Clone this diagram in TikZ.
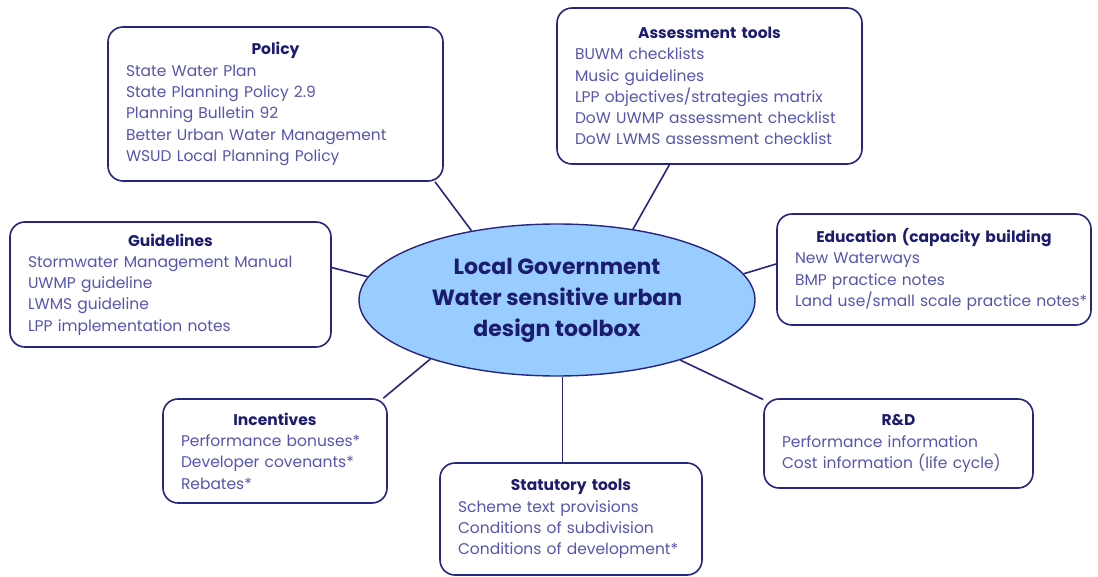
\documentclass[tikz,border=0pt]{standalone}
\usepackage{fontspec}
\setmainfont{Poppins}
\usetikzlibrary{shapes.geometric}
\definecolor{edgeblue}{RGB}{38,38,128}
\definecolor{titleblue}{RGB}{28,28,110}
\definecolor{itemblue}{RGB}{85,85,175}
\definecolor{hubfill}{RGB}{153,204,255}
\newcommand*{\BoxTitle}[1]{{\centering\bfseries\color{titleblue}#1\par}}
\tikzset{
  toolbox/.style={draw=edgeblue, line width=1.6pt, rounded corners=15pt,
    align=left, text=itemblue, inner xsep=18pt, inner ysep=0pt,
    font=\fontsize{15.5}{21.3}\selectfont},
  hub/.style={ellipse, draw=edgeblue, line width=1.4pt, fill=hubfill,
    minimum width=396pt, minimum height=152pt, inner sep=0pt, align=center,
    text=titleblue, font=\fontsize{22}{31}\selectfont\bfseries},
  spoke/.style={draw=edgeblue, line width=1.6pt}
}

\begin{document}
\begin{tikzpicture}[x=1pt,y=-1pt]
    \useasboundingbox (0,0) rectangle (1098,577);

    \node [hub] (hub) at (557,300) {Local Government\\Water sensitive urban\\design toolbox};

    % the seven tool boxes
    \node [toolbox, text width=299pt, minimum height=154pt] (policy) at (275.5,104)
      {\BoxTitle{Policy}State Water Plan\\State Planning Policy 2.9\\Planning Bulletin 92\\Better Urban Water Management\\WSUD Local Planning Policy};
    \node [toolbox, text width=269pt, minimum height=156pt] (assess) at (709.5,86)
      {\BoxTitle{Assessment tools}BUWM checklists\\Music guidelines\\LPP objectives/strategies matrix\\DoW UWMP assessment checklist\\DoW LWMS assessment checklist};
    \node [toolbox, text width=285pt, minimum height=125pt] (guide) at (170.5,284.5)
      {\BoxTitle{Guidelines}Stormwater Management Manual\\UWMP guideline\\LWMS guideline\\LPP implementation notes};
    \node [toolbox, text width=278pt, minimum height=111pt] (educ) at (934,269.5)
      {\BoxTitle{Education (capacity building}New Waterways\\BMP practice notes\\\mbox{Land use/small scale practice notes*}};
    \node [toolbox, text width=188pt, minimum height=104pt] (incent) at (275,451)
      {\BoxTitle{Incentives}Performance bonuses*\\Developer covenants*\\Rebates*};
    \node [toolbox, text width=233pt, minimum height=89pt] (rnd) at (898.5,443.5)
      {\BoxTitle{R\&D}Performance information\\Cost information (life cycle)};
    \node [toolbox, text width=226pt, minimum height=112pt] (statut) at (571,519)
      {\BoxTitle{Statutory tools}Scheme text provisions\\Conditions of subdivision\\Conditions of development*};

    % spokes
    \draw [spoke] (policy.-26.5) -- (hub.141);
    \draw [spoke] (assess.243.4) -- (hub.43);
    \draw [spoke] (guide.6.9) -- (hub.173);
    \draw [spoke] (educ.178.4) -- (hub.8);
    \draw [spoke] (incent.26.3) -- (hub.205.5);
    \draw [spoke] (rnd.162.5) -- (hub.-26.6);
    \draw [spoke] (hub.-86) -- (hub.-86 |- statut.north);
\end{tikzpicture}
\end{document}
